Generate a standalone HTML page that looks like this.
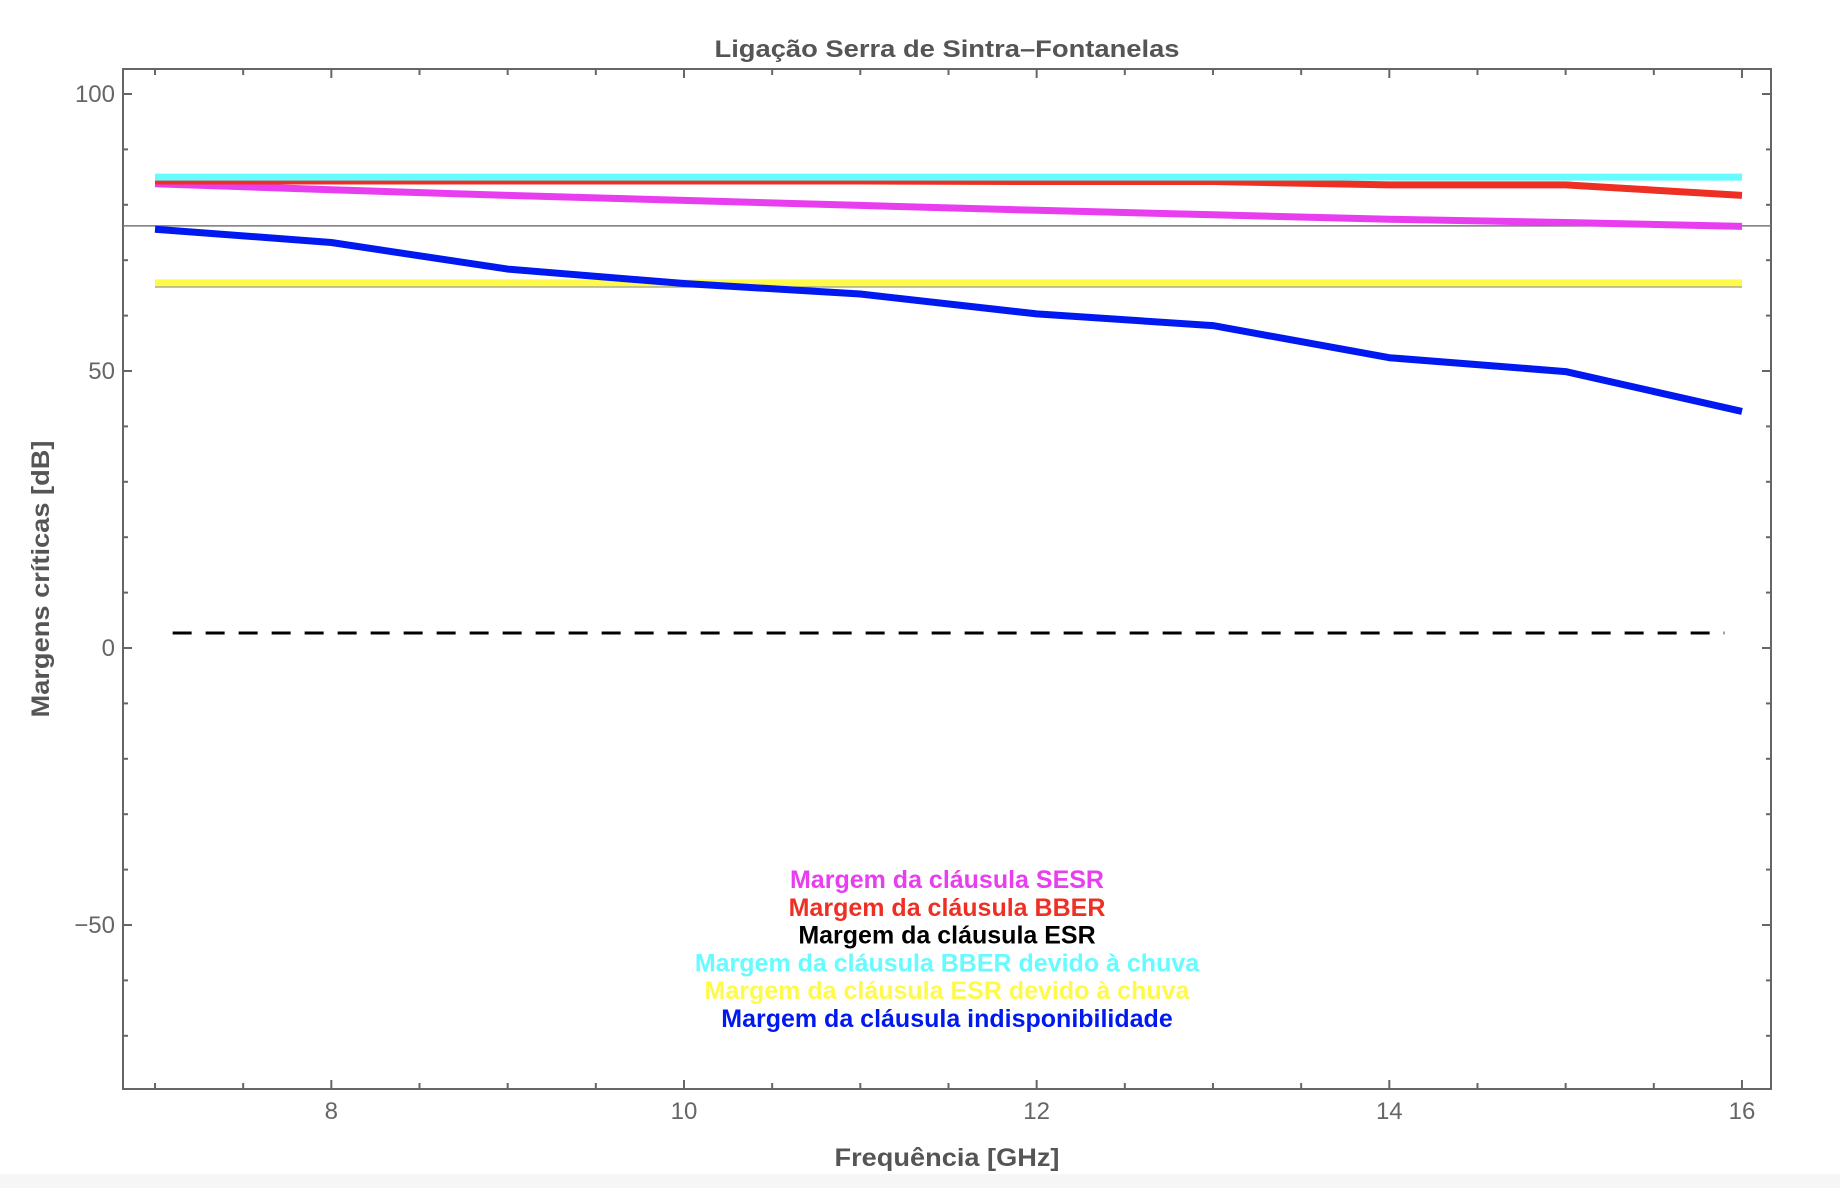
<!DOCTYPE html>
<html><head><meta charset="utf-8"><style>
html,body{margin:0;padding:0;background:#fff;}
svg{display:block;font-family:"Liberation Sans",sans-serif;}
</style></head><body>
<svg id="chart" width="1840" height="1188" viewBox="0 0 1840 1188">
<rect x="0" y="1174" width="1840" height="14" fill="#f6f6f6"/>
<g id="plot"></g>
<text x="947" y="57" text-anchor="middle" font-size="24" font-weight="bold" fill="#555" textLength="465" lengthAdjust="spacingAndGlyphs">Ligação Serra de Sintra–Fontanelas</text>
<text x="947" y="1166" text-anchor="middle" font-size="25" font-weight="bold" fill="#555" textLength="225" lengthAdjust="spacingAndGlyphs">Frequência [GHz]</text>
<text transform="translate(49,579) rotate(-90)" text-anchor="middle" font-size="25" font-weight="bold" fill="#555" textLength="277" lengthAdjust="spacingAndGlyphs">Margens críticas [dB]</text>
<g id="legend"></g>
</svg>
<script>
const freqs = [7, 8, 9, 10, 11, 12, 13, 14, 15, 16];
const sesr = [83.8, 82.7, 81.7, 80.8, 79.9, 79.0, 78.2, 77.4, 76.8, 76.1];
const bber = [84.3, 84.3, 84.3, 84.3, 84.3, 84.2, 84.2, 83.6, 83.6, 81.7];
const bberRain = [85.0, 85.0, 85.0, 85.0, 85.0, 85.0, 85.0, 85.0, 85.0, 85.0];
const esrRain = [65.9, 65.9, 65.9, 65.9, 65.9, 65.9, 65.9, 65.9, 65.9, 65.9];
const unavail = [75.6, 73.2, 68.4, 65.8, 63.9, 60.3, 58.2, 52.4, 49.9, 42.7];
const esrLevel = [2.7, 2.7];
const esrX = [7.1, 15.9];
const refLine = 76.2;
const yTicks = [-50, 0, 50, 100];
const xTicks = [8, 10, 12, 14, 16];
const legendLabels = ["Margem da cláusula SESR","Margem da cláusula BBER","Margem da cláusula ESR","Margem da cláusula BBER devido à chuva","Margem da cláusula ESR devido à chuva","Margem da cláusula indisponibilidade"];
const legendColors = ["#e83ef0","#ee3024","#000000","#66fbff","#fffa4a","#0019f0"];

const L=123,R=1771,T=69,B=1089;
const sx=v=>155+(v-7)*176.33;
const sy=v=>648-v*5.54;
const NS="http://www.w3.org/2000/svg";
const plot=document.getElementById('plot');
function mk(tag,attrs,parent){const e=document.createElementNS(NS,tag);for(const k in attrs)e.setAttribute(k,attrs[k]);(parent||plot).appendChild(e);return e;}

let fr=mk('rect',{x:L,y:T,width:R-L,height:B-T,fill:'none',stroke:'#666','stroke-width':2});


for(let v=-70;v<=100;v+=10){
  const major=v%50===0;const len=major?9:5;const y=sy(v);
  let t1=mk('line',{x1:L,x2:L+len,y1:y,y2:y,stroke:'#666','stroke-width':2});
  
  
  let t2=mk('line',{x1:R-len,x2:R,y1:y,y2:y,stroke:'#666','stroke-width':2});
  
  
}
yTicks.forEach(v=>{
  let t=mk('text',{x:115,y:sy(v)+8,'text-anchor':'end','font-size':24,fill:'#666'});
  t.textContent=v<0?'−'+Math.abs(v):String(v);
  
  
});
for(let v=7;v<=16.01;v+=0.5){
  const major=Math.abs(v%2)<0.01;const len=major?9:6;const x=sx(v);
  let t1=mk('line',{x1:x,x2:x,y1:B,y2:B-len,stroke:'#666','stroke-width':2});
  
  
  let t2=mk('line',{x1:x,x2:x,y1:T,y2:T+len,stroke:'#666','stroke-width':2});
  
  
}
xTicks.forEach(v=>{
  let t=mk('text',{x:sx(v),y:1119,'text-anchor':'middle','font-size':24,fill:'#666'});
  t.textContent=String(v);
  
  
});
let rl=mk('line',{x1:L,x2:R,y1:sy(refLine),y2:sy(refLine),stroke:'#777','stroke-width':1.5});


function pts(arr){return arr.map((v,i)=>sx(freqs[i]).toFixed(1)+','+sy(v).toFixed(1)).join(' ');}
let ge=mk('polyline',{points:esrRain.map((v,i)=>sx(freqs[i]).toFixed(1)+','+(sy(v)+4).toFixed(1)).join(' '),fill:'none',stroke:'#999','stroke-width':1.5});


const series=[[esrRain,'#fffa4a','esr-rain-line'],[unavail,'#0019f0','unavailability-line'],[sesr,'#e83ef0','sesr-line'],[bber,'#ee3024','bber-line'],[bberRain,'#66fbff','bber-rain-line']];
series.forEach(s=>{
  let p=mk('polyline',{points:pts(s[0]),fill:'none',stroke:s[1],'stroke-width':7,'stroke-linejoin':'round'});
  
  
});
let d=mk('line',{x1:sx(esrX[0]),x2:sx(esrX[1]),y1:sy(esrLevel[0]),y2:sy(esrLevel[1]),stroke:'#000','stroke-width':3,'stroke-dasharray':'19,14'});


const lg=document.getElementById('legend');
legendLabels.forEach((lab,i)=>{
  let t=mk('text',{x:947,y:888+i*27.8,'text-anchor':'middle','font-size':25,'font-weight':'bold',fill:legendColors[i]},lg);
  t.textContent=lab;
  
  
});
</script>
</body></html>
